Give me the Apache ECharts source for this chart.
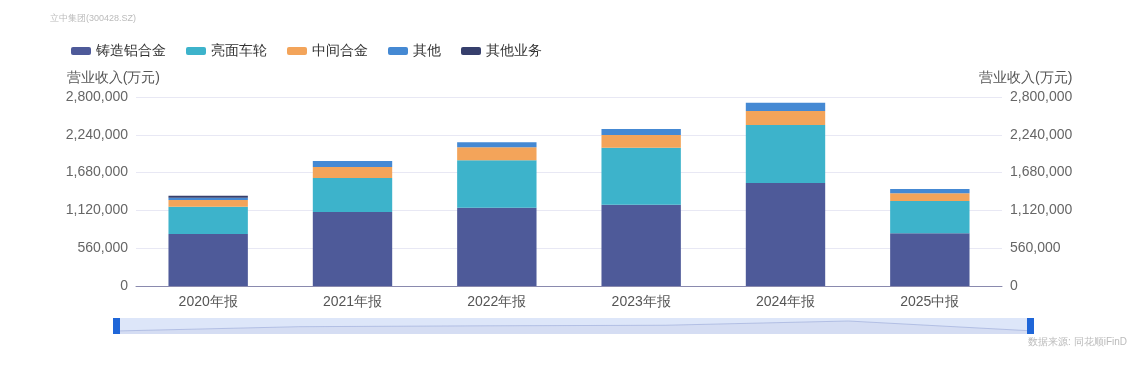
<!DOCTYPE html>
<html><head><meta charset="utf-8">
<script src="https://cdn.jsdelivr.net/npm/echarts@6/dist/echarts.min.js"></script>
<style>html,body{margin:0;padding:0;background:#fff}#c{width:1138px;height:374px}</style>
</head><body><div id="c"></div>
<script>
const categories = ['2020年报','2021年报','2022年报','2023年报','2024年报','2025中报'];
const castAlloy = [770000, 1096000, 1160000, 1204000, 1526000, 781000];
const wheels = [404000, 504000, 702000, 845000, 859000, 478000];
const masterAlloy = [99000, 163000, 193000, 188000, 208000, 114000];
const others = [34000, 89000, 74000, 89000, 123000, 64000];
const otherBiz = [30000, null, null, null, null, null];
const yTicks = [0, 560000, 1120000, 1680000, 2240000, 2800000];
const seriesNames = ['铸造铝合金','亮面车轮','中间合金','其他','其他业务'];
const colors = ['#4e5a99','#3db3cb','#f3a45a','#4589d3','#363f6c'];

const chart = echarts.init(document.getElementById('c'));
const fmt = v => v.toLocaleString('en-US');
const yAxisBase = {
  type:'value', min: yTicks[0], max: yTicks[yTicks.length-1], interval: yTicks[1]-yTicks[0],
  name:'营业收入(万元)', nameGap: 12,
  axisLine:{show:false}, axisTick:{show:false},
  splitLine:{lineStyle:{color:'#e8e8f4'}}
};
const dataLists = [castAlloy, wheels, masterAlloy, others, otherBiz];
chart.setOption({
  animation:false,
  color: colors,
  title:{text:'立中集团(300428.SZ)', left:45, top:9, textStyle:{color:'#bbb', fontSize:9, fontWeight:'normal'}},
  legend:{left:66, top:39, itemWidth:20, itemHeight:8, itemGap:20, icon:'roundRect',
    textStyle:{color:'#333', fontSize:14}, data: seriesNames},
  grid:{left:136, right:136, top:97, bottom:88},
  graphic:[{type:'text', right:11, top:337, style:{text:'数据来源: 同花顺iFinD', fill:'#bbb', fontSize:10}}],
  xAxis:{type:'category', data: categories,
    axisLine:{lineStyle:{color:'#8a8aae'}}, axisTick:{show:false},
    axisLabel:{color:'#555', fontSize:14, margin:9}},
  yAxis:[Object.assign({}, yAxisBase, {position:'left',
            axisLabel:{color:'#666', fontSize:14, formatter: fmt, margin:8},
            nameTextStyle:{color:'#555', fontSize:14, align:'right', padding:[0,-24,0,0]}}),
         Object.assign({}, yAxisBase, {position:'right',
            axisLabel:{color:'#666', fontSize:14, formatter: fmt, margin:8},
            nameTextStyle:{color:'#555', fontSize:14, align:'left', padding:[0,0,0,-23]}})],
  dataZoom:[{type:'slider', xAxisIndex:0, left:113, right:109, bottom:40, height:16,
    start:0, end:100, showDetail:false,
    borderColor:'transparent', backgroundColor:'#e1e9f9',
    fillerColor:'rgba(200,215,245,0.15)',
    handleIcon:'path://M0,0 L7,0 L7,16 L0,16 Z M2,5 L5,5 L5,6.5 L2,6.5 Z M2,7.5 L5,7.5 L5,9 L2,9 Z M2,10 L5,10 L5,11.5 L2,11.5 Z',
    handleSize:'100%',
    handleStyle:{color:'#1f66d8', borderColor:'#1f66d8', borderWidth:0},
    moveHandleSize:0,
    dataBackground:{lineStyle:{color:'#a8c0f0', width:1}, areaStyle:{color:'#cbd9f6', opacity:1}}}],
  series: seriesNames.map((n,i)=>({
    name:n, type:'bar', stack:'total', barWidth:'55%', data: dataLists[i],
    itemStyle:{color: colors[i]}
  }))
});
</script></body></html>
